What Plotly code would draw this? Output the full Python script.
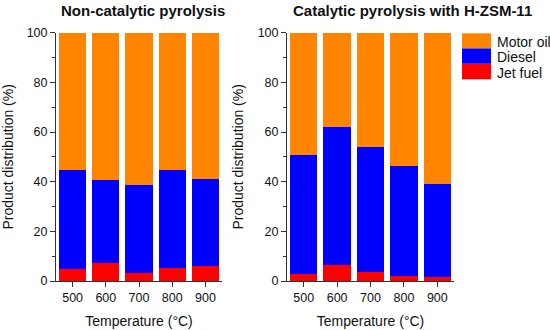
import plotly.graph_objects as go

temperatures = [500, 600, 700, 800, 900]
series_names = ["Motor oil", "Diesel", "Jet fuel"]
series_colors = ["#FF8500", "#0000FF", "#FF0000"]

# Non-catalytic pyrolysis (%)
jet_noncat = [5.1, 7.2, 3.5, 5.4, 6.2]
diesel_noncat = [39.6, 33.5, 35.4, 39.3, 34.9]
motor_noncat = [55.3, 59.3, 61.1, 55.3, 58.9]

# Catalytic pyrolysis with H-ZSM-11 (%)
jet_cat = [2.8, 6.4, 3.8, 2.1, 1.6]
diesel_cat = [47.9, 55.6, 50.4, 44.5, 37.6]
motor_cat = [49.3, 38.0, 45.8, 53.4, 60.8]

y_ticks = [0, 20, 40, 60, 80, 100]
titles = ["Non-catalytic pyrolysis", "Catalytic pyrolysis with H-ZSM-11"]

FONT = "Arial, Liberation Sans, sans-serif"
fig = go.Figure()

panels = [
    ("x", "y", [motor_noncat, diesel_noncat, jet_noncat]),
    ("x2", "y2", [motor_cat, diesel_cat, jet_cat]),
]
for xa, ya, vals in panels:
    # stack from bottom: jet, diesel, motor
    for idx in [2, 1, 0]:
        fig.add_trace(go.Bar(
            x=temperatures, y=vals[idx], name=series_names[idx],
            marker=dict(color=series_colors[idx], line=dict(width=0)),
            width=82, xaxis=xa, yaxis=ya, showlegend=False,
        ))

axis_common = dict(
    showline=True, linecolor="#333333", linewidth=1, mirror=False, automargin=False,
    ticks="outside", ticklen=5, tickcolor="#333333", showgrid=False, zeroline=False,
    tickfont=dict(family=FONT, size=12.5, color="#111111"),
)
x_common = dict(axis_common, range=[450, 950], tickvals=temperatures,
                ticktext=[str(t) for t in temperatures],
                title=dict(text="Temperature (°C)", font=dict(family=FONT, size=14, color="#111111"), standoff=12))
y_common = dict(axis_common, range=[0, 100], tickvals=y_ticks,
                minor=dict(ticks="outside", ticklen=3, dtick=10, tick0=0, tickcolor="#333333"),
                title=dict(text="Product distribution (%)", font=dict(family=FONT, size=14, color="#111111"), standoff=10))

fig.update_layout(
    width=550, height=330, margin=dict(l=0, r=0, t=0, b=0, autoexpand=False),
    paper_bgcolor="white", plot_bgcolor="white", barmode="stack", bargap=0,
    xaxis=dict(x_common, domain=[56/550, 222/550], anchor="y"),
    yaxis=dict(y_common, domain=[49/330, 297.3/330], anchor="x"),
    xaxis2=dict(x_common, domain=[287/550, 454/550], anchor="y2"),
    yaxis2=dict(y_common, domain=[49/330, 297.3/330], anchor="x2"),
    font=dict(family=FONT, color="#111111"),
)

# Panel titles
for t, cx in zip(titles, [142.5, 412]):
    fig.add_annotation(text="<b>%s</b>" % t, x=cx/550, y=1 - 10.5/330, xref="paper", yref="paper",
                       xanchor="center", yanchor="middle", showarrow=False,
                       font=dict(family=FONT, size=15, color="#111111"))

# Custom legend with large swatches
sw_x0, sw_x1 = 462, 491
sw_tops = [33.3, 48.5, 64]
sw_h = 15.3
for name, col, top in zip(series_names, series_colors, sw_tops):
    fig.add_shape(type="rect", xref="paper", yref="paper",
                  x0=sw_x0/550, x1=sw_x1/550, y0=1 - (top + sw_h)/330, y1=1 - top/330,
                  fillcolor=col, line=dict(width=0))
    fig.add_annotation(text=name, x=495/550, y=1 - (top + sw_h/2 + 1)/330, xref="paper", yref="paper",
                       xanchor="left", yanchor="middle", showarrow=False,
                       font=dict(family=FONT, size=14, color="#111111"))

fig.write_html("out.html", config={"displayModeBar": False},
               post_script="document.body.style.margin='0';document.body.style.overflow='hidden';")
